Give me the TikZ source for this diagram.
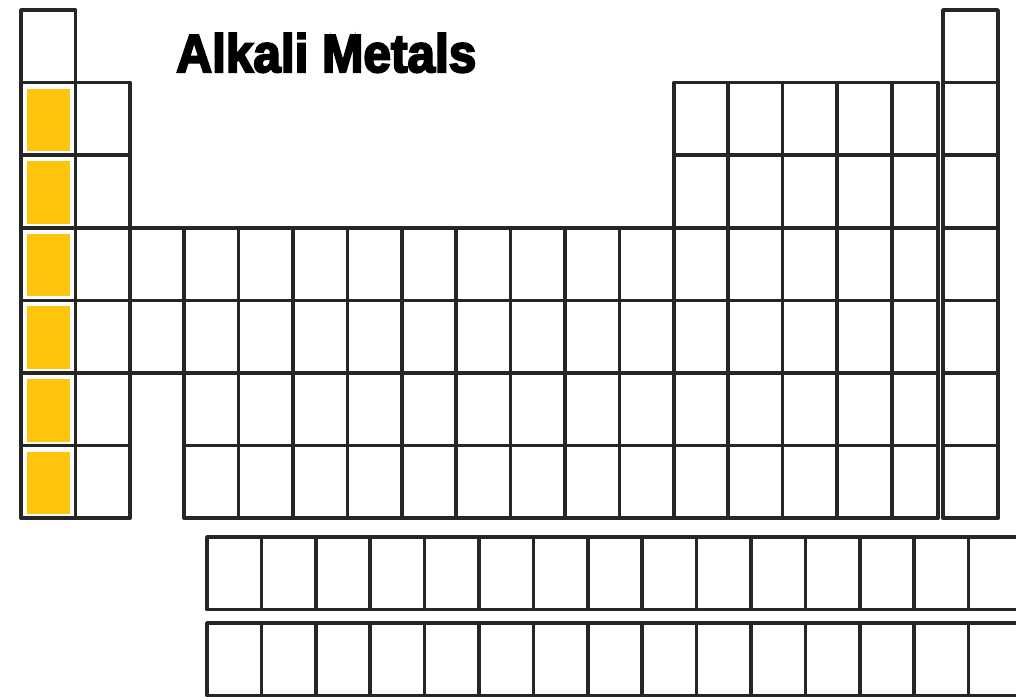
\documentclass[tikz,border=0pt]{standalone}
\usepackage{fontspec}
\setmainfont{Liberation Sans}
\newfontfamily\titlefont[FakeBold=4]{Liberation Sans Bold}
\usepackage{graphicx}

\definecolor{alkali}{RGB}{255,196,14}

\newcommand*{\cw}{54.4}
\newcommand*{\ch}{72.6}
\newcommand*{\gx}{21}
\newcommand*{\gy}{10}

% one box of the main table: #1 = group, #2 = period
\newcommand*{\elembox}[2]{%
	\draw[cell] ({\gx+(#1-1)*\cw},{\gy+(#2-1)*\ch}) rectangle ++(\cw,\ch);}
% the two narrow right-hand groups
\newcommand*{\grpseventeen}[1]{%
	\draw[cell] (892,{\gy+(#1-1)*\ch}) rectangle (938,{\gy+#1*\ch});}
\newcommand*{\grpeighteen}[1]{%
	\draw[cell] (943,{\gy+(#1-1)*\ch}) rectangle (998,{\gy+#1*\ch});}

\begin{document}
\begin{tikzpicture}
[
	x=0.025cm, y=-0.025cm,
	cell/.style={draw=black!85, line width=2.6pt, line join=round},
	alkalibox/.style={fill=alkali}
]

	\useasboundingbox (0,0) rectangle (1016,699);
	\clip (0,0) rectangle (1016,699);

	% alkali metals
	\foreach \p in {2,...,7}
		\fill[alkalibox] ({\gx+5.5},{\gy+(\p-1)*\ch+6}) rectangle ({\gx+\cw-5},{\gy+\p*\ch-4});

	% period 1
	\elembox{1}{1}
	\grpeighteen{1}

	% periods 2 and 3
	\foreach \p in {2,3} {
		\foreach \g in {1,2,13,14,15,16} {\elembox{\g}{\p}}
		\grpseventeen{\p}
		\grpeighteen{\p}
	}

	% periods 4 and 5
	\foreach \p in {4,5} {
		\foreach \g in {1,...,16} {\elembox{\g}{\p}}
		\grpseventeen{\p}
		\grpeighteen{\p}
	}

	% periods 6 and 7
	\foreach \p in {6,7} {
		\foreach \g in {1,2,4,5,...,16} {\elembox{\g}{\p}}
		\grpseventeen{\p}
		\grpeighteen{\p}
	}

	% lanthanides and actinides
	\foreach \y in {537,623}
		\foreach \k in {0,...,15}
			\draw[cell] ({207+\k*\cw},\y) rectangle ++(\cw,72.5);

	\node[anchor=base west, inner sep=0pt] (title) at (176,72)
		{\resizebox{7.5cm}{0.97cm}{\titlefont Alkali Metals}};

\end{tikzpicture}
\end{document}
